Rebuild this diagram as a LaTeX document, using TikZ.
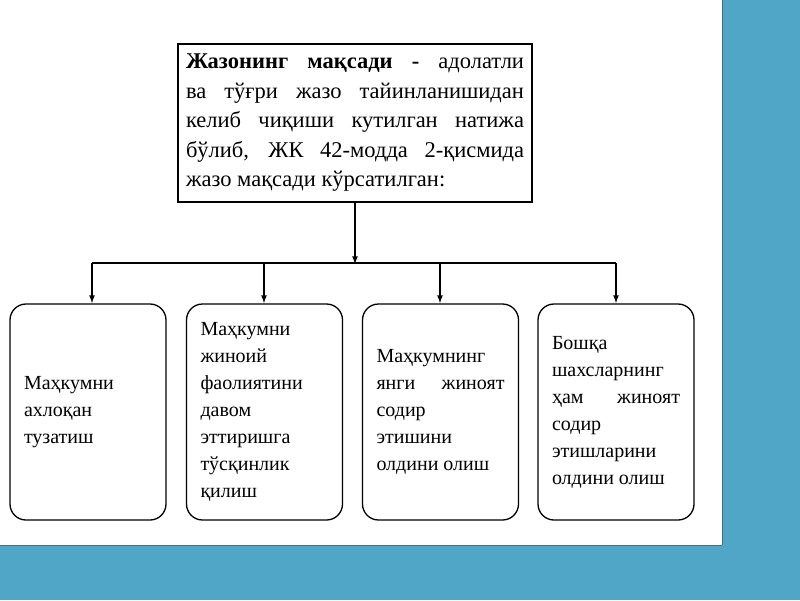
\documentclass[tikz,border=0pt]{standalone}
\usepackage{fontspec}
\setmainfont{Liberation Serif}
\usetikzlibrary{calc}
\definecolor{barblue}{HTML}{4FA6C6}
\tikzset{
  goalbox/.style={draw, line width=1.6pt, minimum width=354pt, minimum height=158pt,
    text width=338pt, align=justify, font=\fontsize{22.5}{29.5}\selectfont},
  aimbox/.style={draw, line width=1.3pt, rounded corners=16pt, minimum width=156pt,
    minimum height=216pt, text width=128pt, align=justify, font=\fontsize{20}{27}\selectfont},
  link/.style={line width=1.6pt, -latex, shorten >=-1pt}
}
\begin{document}
\begin{tikzpicture}[x=1pt, y=-1pt, >=latex]
        \useasboundingbox (0,0) rectangle (800,600);
        \fill[barblue] (722,0) rectangle (800,545);
        \draw[barblue!70!black, line width=0.8pt] (722,0) -- (722,545);
        \fill[barblue] (0,545) rectangle (800,600);
        \draw[barblue!70!black, line width=0.8pt] (0,545) -- (722,545);
        \node[goalbox] (goal) at (355,123) {\textbf{Жазонинг мақсади -} адолатли ва тўғри жазо тайинланишидан келиб чиқиши кутилган натижа бўлиб, ЖК 42-модда 2-қисмида жазо мақсади кўрсатилган:};
        \node[aimbox] (a1) at (88,412) {Маҳкумни ахлоқан тузатиш};
        \node[aimbox] (a2) at (264.5,412) {Маҳкумни жиноий фаолиятини давом эттиришга тўсқинлик қилиш};
        \node[aimbox] (a3) at (440.5,412) {Маҳкумнинг янги жиноят содир этишини олдини олиш};
        \node[aimbox] (a4) at (616,412) {Бошқа шахсларнинг ҳам жиноят содир этишларини олдини олиш};
        \coordinate (bus) at (355,263);
        \draw[link] (goal.south) -- (bus);
        \draw[line width=2.4pt] (92,263) -- (616,263);
        \foreach \n/\x in {a1/92, a2/264, a3/440, a4/616}
            \draw[link] (\x,263) -- (\x,302);
\end{tikzpicture}
\end{document}
